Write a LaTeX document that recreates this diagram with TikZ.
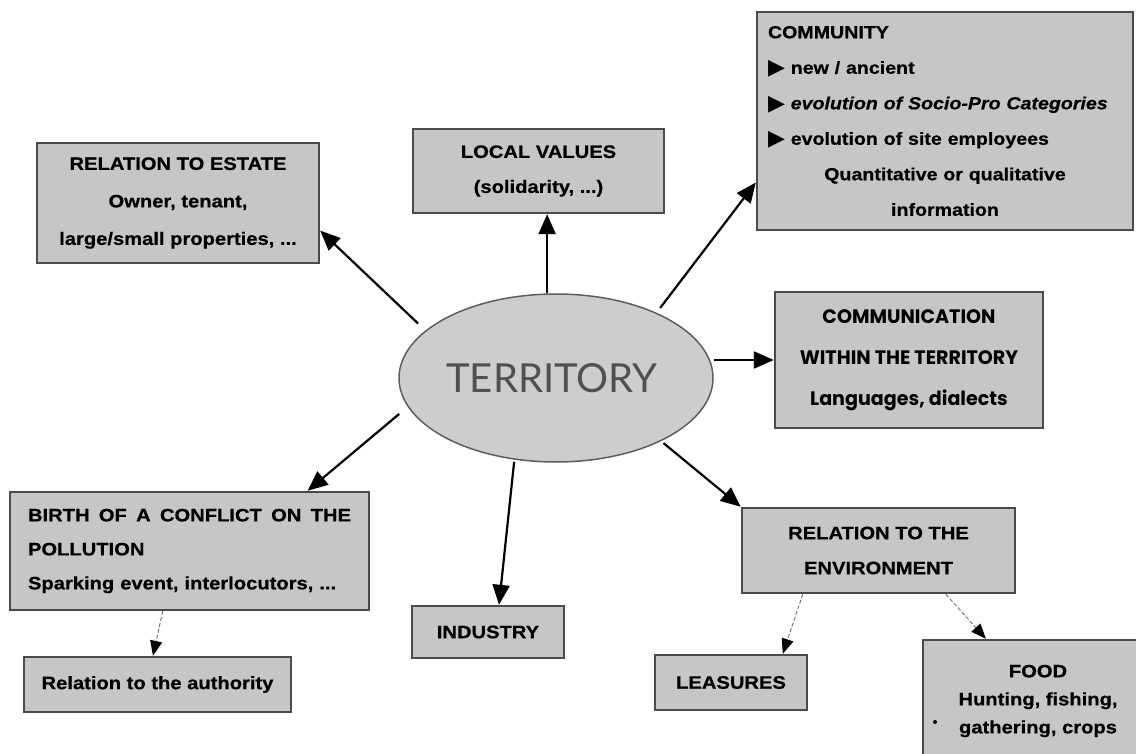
\documentclass[tikz,border=0pt]{standalone}
\usepackage{fontspec}
\setmainfont{Liberation Sans}
\newfontfamily\bxf{Liberation Sans}[FakeStretch=1.12,FakeBold=0.6]
\newfontfamily\gothf{Poppins}[FakeStretch=0.98]
\newfontfamily\gillf{Lato}
\newfontfamily\dvf{DejaVu Sans}
\usetikzlibrary{arrows.meta,shapes.geometric,calc}
\definecolor{boxfill}{HTML}{C6C6C6}
\definecolor{boxline}{HTML}{4A4A4A}
\definecolor{ellfill}{HTML}{CDCDCD}
\definecolor{ellline}{HTML}{5E5E5E}
\definecolor{terrtext}{HTML}{505050}
\newcommand{\pointer}{\raisebox{-1pt}{\dvf\mdseries\fontsize{22}{22}\selectfont ▶}}
\begin{document}
\begin{tikzpicture}[x=1pt,y=-1pt,
  box/.style={draw=boxline, line width=2.4pt, fill=boxfill, inner sep=0pt, align=center,
    font=\bxf\bfseries\fontsize{18}{35}\selectfont},
  arr/.style={line width=2.2pt, -{Triangle[length=20pt,width=17pt]}},
  darr/.style={line width=0.9pt, draw=black!55, dash pattern=on 4pt off 2pt,
    -{Triangle[length=15pt,width=12pt,color=black]}}]
\useasboundingbox (0,0) rectangle (1136,754);

% central ellipse
\node[ellipse, draw=ellline, line width=1.5pt, fill=ellfill, minimum width=314pt, minimum height=168pt,
  inner sep=0pt, font=\gillf\fontsize{40}{40}\selectfont, text=terrtext] (territory) at (556,378) {\hspace*{-8pt}TERRITORY};

% boxes
\node[box, minimum width=282pt, minimum height=120pt, font=\bxf\bfseries\fontsize{18}{37.5}\selectfont]
  (estate) at (178,203) {RELATION TO ESTATE\\Owner, tenant,\\large/small properties, ...};

\node[box, minimum width=251pt, minimum height=84pt] (local) at (538.5,171) {LOCAL VALUES\\(solidarity, ...)};

\node[box, minimum width=376pt, minimum height=218pt, text width=354pt, align=left,
  font=\bxf\bfseries\fontsize{17.5}{35.5}\selectfont] (community) at (945,121)
  {COMMUNITY\\
   \pointer\ new / ancient\\
   \pointer\ \textit{evolution of Socio-Pro Categories}\\
   \pointer\ evolution of site employees\\
   \makebox[\linewidth][c]{Quantitative or qualitative}\\
   \makebox[\linewidth][c]{information}};

\node[box, minimum width=268pt, minimum height=136pt, font=\gothf\bfseries\fontsize{19.5}{41}\selectfont]
  (comm) at (909,360) {COMMUNICATION\\WITHIN THE TERRITORY\\Languages, dialects};

\node[box, minimum width=273pt, minimum height=85pt] (env) at (878.5,550.5)
  {\raisebox{-7pt}{\parbox{240pt}{\centering RELATION TO THE\\ENVIRONMENT}}};

\node[box, minimum width=152pt, minimum height=55pt] (leasures) at (731,682.5) {LEASURES};

\node[box, minimum width=222pt, minimum height=130pt, font=\bxf\bfseries\fontsize{18}{28}\selectfont]
  (food) at (1034,705) {\raisebox{-3pt}{\parbox{200pt}{\centering\hspace*{8pt}FOOD\\\hspace*{8pt}Hunting, fishing,\\\hspace*{8pt}gathering, crops\\[8pt]}}};
\fill[black] (935,722) circle (2pt);

\node[box, minimum width=359pt, minimum height=118pt, text width=323pt, align=left,
  font=\bxf\bfseries\fontsize{18}{34}\selectfont] (birth) at (189.5,551)
  {BIRTH\hfill OF\hfill A\hfill CONFLICT\hfill ON\hfill THE\\
   POLLUTION\\
   Sparking event, interlocutors, ...};

\node[box, minimum width=267pt, minimum height=55pt] (auth) at (157.5,684.5) {Relation to the authority};

\node[box, minimum width=152pt, minimum height=52pt] (industry) at (488,632) {INDUSTRY};

% connectors
\draw[arr, shorten <=10pt] (territory.160) -- (estate.-11);
\draw[arr] (territory.96) -- (territory.96 |- local.south);
\draw[arr, shorten <=6pt] (territory.33) -- (community.198);
\draw[arr] (comm.west -| territory.east) -- (comm.west);
\draw[arr, shorten <=3pt] (territory.-31.5) -- (env.north west);
\draw[arr, shorten <=2pt] (territory.-117) -- (industry.68);
\draw[arr, shorten <=11pt] (territory.191.4) -- (birth.27.5);
\draw[darr] (env.210.7) -- (leasures.29);
\draw[darr] (env.-33.4) -- (food.126);
\draw[darr] (birth.246) -- (auth.99);
\end{tikzpicture}
\end{document}
